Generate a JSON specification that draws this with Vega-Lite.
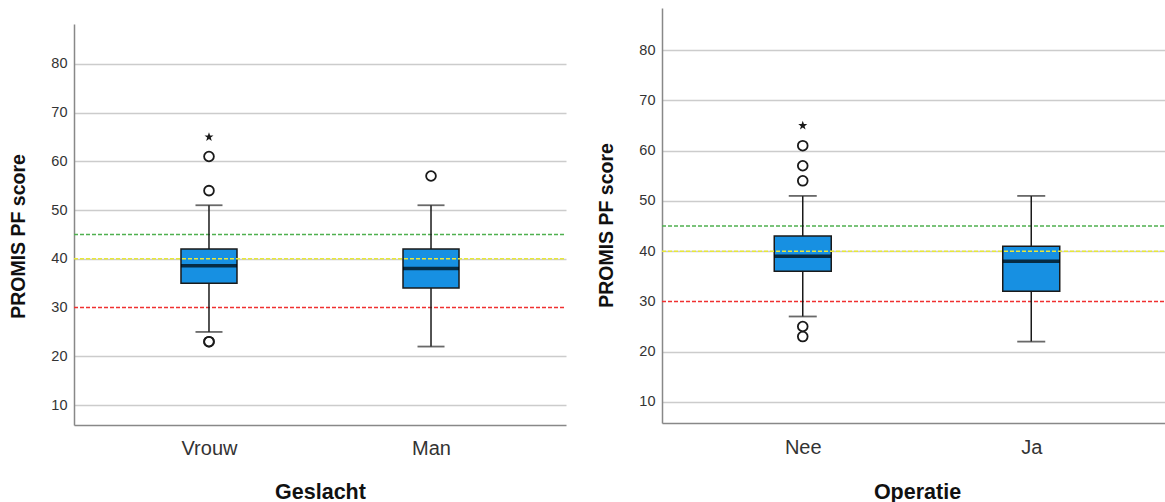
{
  "$schema": "https://vega.github.io/schema/vega-lite/v6.json",
  "padding": {"left": 8, "top": 8, "right": 0, "bottom": 0},
  "background": "white",
  "spacing": 29,
  "config": {
    "view": {"stroke": null},
    "font": "Liberation Sans",
    "axis": {
      "labelFont": "Liberation Sans",
      "titleFont": "Liberation Sans",
      "domainColor": "#888888",
      "domainWidth": 1.5,
      "ticks": false,
      "gridWidth": 1.5
    }
  },
  "datasets": {
    "refs": [
      {"ref": "45", "value": 45},
      {"ref": "40", "value": 40},
      {"ref": "30", "value": 30}
    ],
    "spacer": [],
    "geslacht_box": [
      {"group": "Vrouw", "lower": 25, "q1": 35, "median": 38.6, "q3": 42, "upper": 51},
      {"group": "Man", "lower": 22, "q1": 34, "median": 38, "q3": 42, "upper": 51}
    ],
    "geslacht_out": [
      {"group": "Vrouw", "value": 65, "kind": "extreme"},
      {"group": "Vrouw", "value": 61, "kind": "outlier"},
      {"group": "Vrouw", "value": 54, "kind": "outlier"},
      {"group": "Vrouw", "value": 23, "kind": "outlier"},
      {"group": "Vrouw", "value": 23, "kind": "outlier"},
      {"group": "Man", "value": 57, "kind": "outlier"}
    ],
    "operatie_box": [
      {"group": "Nee", "lower": 27, "q1": 36, "median": 39, "q3": 43, "upper": 51},
      {"group": "Ja", "lower": 22, "q1": 32, "median": 38, "q3": 41, "upper": 51}
    ],
    "operatie_out": [
      {"group": "Nee", "value": 65, "kind": "extreme"},
      {"group": "Nee", "value": 61, "kind": "outlier"},
      {"group": "Nee", "value": 57, "kind": "outlier"},
      {"group": "Nee", "value": 54, "kind": "outlier"},
      {"group": "Nee", "value": 25, "kind": "outlier"},
      {"group": "Nee", "value": 23, "kind": "outlier"}
    ]
  },
  "hconcat": [
    {
      "spacing": 15,
      "vconcat": [
        {
          "width": 492,
          "height": 1,
          "data": {"name": "spacer"},
          "mark": {"type": "rule", "opacity": 0},
          "encoding": {}
        },
        {
          "width": 492,
          "height": 401,
          "encoding": {
            "x": {
              "field": "group", "type": "nominal", "sort": ["Vrouw", "Man"],
              "scale": {"type": "point", "padding": 0.608},
              "axis": {"title": "Geslacht", "titleFontSize": 21.5, "titleFontWeight": "bold", "titleColor": "#111111", "titlePadding": 23, "labelFontSize": 20, "labelColor": "#333333", "labelPadding": 13, "labelAngle": 0, "grid": false}
            }
          },
          "layer": [
            {
              "data": {"name": "geslacht_box"},
              "mark": {"type": "bar", "size": 56, "fill": "#1790e2", "stroke": "#1a1a1a", "strokeWidth": 1.5},
              "encoding": {
                "y": {"field": "q1", "type": "quantitative", "scale": {"domain": [5.9, 88.2], "nice": false, "zero": false},
                  "axis": {"title": "PROMIS PF score", "titleFontSize": 19.5, "titleFontWeight": "bold", "titleColor": "#111111", "titlePadding": 22, "titleY": 212, "labelFontSize": 14.5, "labelColor": "#333333", "labelPadding": 7, "values": [10, 20, 30, 40, 50, 60, 70, 80], "grid": true,
                    "gridColor": {"condition": {"test": "datum.value === 30", "value": "transparent"}, "value": "#cccccc"}}},
                "y2": {"field": "q3"}
              }
            },
            {
              "data": {"name": "refs"},
              "mark": {"type": "rule", "strokeDash": [4, 2], "strokeWidth": 1.5},
              "encoding": {
                "y": {"field": "value", "type": "quantitative"},
                "x": {"value": 0},
                "x2": {"value": "width"},
                "color": {"field": "ref", "type": "nominal", "scale": {"domain": ["45", "40", "30"], "range": ["#4fb04f", "#e8e838", "#f03030"]}, "legend": null}
              }
            },
            {
              "data": {"name": "geslacht_box"},
              "mark": {"type": "tick", "size": 56, "thickness": 3.5, "color": "#000000"},
              "encoding": {"y": {"field": "median", "type": "quantitative"}}
            },
            {
              "data": {"name": "geslacht_box"},
              "mark": {"type": "rule", "color": "#1a1a1a", "strokeWidth": 1.5},
              "encoding": {"y": {"field": "lower", "type": "quantitative"}, "y2": {"field": "q1"}}
            },
            {
              "data": {"name": "geslacht_box"},
              "mark": {"type": "rule", "color": "#1a1a1a", "strokeWidth": 1.5},
              "encoding": {"y": {"field": "q3", "type": "quantitative"}, "y2": {"field": "upper"}}
            },
            {
              "data": {"name": "geslacht_box"},
              "mark": {"type": "tick", "size": 27, "thickness": 1.8, "color": "#2a2a2a"},
              "encoding": {"y": {"field": "lower", "type": "quantitative"}}
            },
            {
              "data": {"name": "geslacht_box"},
              "mark": {"type": "tick", "size": 27, "thickness": 1.8, "color": "#2a2a2a"},
              "encoding": {"y": {"field": "upper", "type": "quantitative"}}
            },
            {
              "data": {"name": "geslacht_out"},
              "transform": [{"filter": {"field": "kind", "equal": "outlier"}}],
              "mark": {"type": "point", "shape": "circle", "size": 95, "filled": false, "stroke": "#1a1a1a", "strokeWidth": 1.8, "opacity": 1},
              "encoding": {"y": {"field": "value", "type": "quantitative"}}
            },
            {
              "data": {"name": "geslacht_out"},
              "transform": [{"filter": {"field": "kind", "equal": "extreme"}}],
              "mark": {"type": "point", "shape": "M0,-1L0.24,-0.33L0.95,-0.31L0.38,0.12L0.59,0.81L0,0.4L-0.59,0.81L-0.38,0.12L-0.95,-0.31L-0.24,-0.33Z", "size": 90, "filled": true, "fill": "#1a1a1a", "opacity": 1},
              "encoding": {"y": {"field": "value", "type": "quantitative"}}
            }
          ]
        }
      ]
    },
    {
      "width": 510,
      "height": 415,
      "encoding": {
        "x": {
          "field": "group", "type": "nominal", "sort": ["Nee", "Ja"],
          "scale": {"type": "point", "padding": 0.616},
          "axis": {"title": "Operatie", "titleFontSize": 21.5, "titleFontWeight": "bold", "titleColor": "#111111", "titlePadding": 24, "labelFontSize": 20, "labelColor": "#333333", "labelPadding": 14, "labelAngle": 0, "grid": false}
        }
      },
      "layer": [
        {
          "data": {"name": "operatie_box"},
          "mark": {"type": "bar", "size": 57, "fill": "#1790e2", "stroke": "#1a1a1a", "strokeWidth": 1.5},
          "encoding": {
            "y": {"field": "q1", "type": "quantitative", "scale": {"domain": [5.8, 88.4], "nice": false, "zero": false},
              "axis": {"title": "PROMIS PF score", "titleFontSize": 19.5, "titleFontWeight": "bold", "titleColor": "#111111", "titlePadding": 22, "titleY": 217, "labelFontSize": 14.5, "labelColor": "#333333", "labelPadding": 7, "values": [10, 20, 30, 40, 50, 60, 70, 80], "grid": true,
                "gridColor": {"condition": {"test": "datum.value === 30", "value": "transparent"}, "value": "#cccccc"}}},
            "y2": {"field": "q3"}
          }
        },
        {
          "data": {"name": "refs"},
          "mark": {"type": "rule", "strokeDash": [4, 2], "strokeWidth": 1.5},
          "encoding": {
            "y": {"field": "value", "type": "quantitative"},
            "x": {"value": 0},
            "x2": {"value": "width"},
            "color": {"field": "ref", "type": "nominal", "scale": {"domain": ["45", "40", "30"], "range": ["#4fb04f", "#e8e838", "#f03030"]}, "legend": null}
          }
        },
        {
          "data": {"name": "operatie_box"},
          "mark": {"type": "tick", "size": 57, "thickness": 3.5, "color": "#000000"},
          "encoding": {"y": {"field": "median", "type": "quantitative"}}
        },
        {
          "data": {"name": "operatie_box"},
          "mark": {"type": "rule", "color": "#1a1a1a", "strokeWidth": 1.5},
          "encoding": {"y": {"field": "lower", "type": "quantitative"}, "y2": {"field": "q1"}}
        },
        {
          "data": {"name": "operatie_box"},
          "mark": {"type": "rule", "color": "#1a1a1a", "strokeWidth": 1.5},
          "encoding": {"y": {"field": "q3", "type": "quantitative"}, "y2": {"field": "upper"}}
        },
        {
          "data": {"name": "operatie_box"},
          "mark": {"type": "tick", "size": 28, "thickness": 1.8, "color": "#2a2a2a"},
          "encoding": {"y": {"field": "lower", "type": "quantitative"}}
        },
        {
          "data": {"name": "operatie_box"},
          "mark": {"type": "tick", "size": 28, "thickness": 1.8, "color": "#2a2a2a"},
          "encoding": {"y": {"field": "upper", "type": "quantitative"}}
        },
        {
          "data": {"name": "operatie_out"},
          "transform": [{"filter": {"field": "kind", "equal": "outlier"}}],
          "mark": {"type": "point", "shape": "circle", "size": 95, "filled": false, "stroke": "#1a1a1a", "strokeWidth": 1.8, "opacity": 1},
          "encoding": {"y": {"field": "value", "type": "quantitative"}}
        },
        {
          "data": {"name": "operatie_out"},
          "transform": [{"filter": {"field": "kind", "equal": "extreme"}}],
          "mark": {"type": "point", "shape": "M0,-1L0.24,-0.33L0.95,-0.31L0.38,0.12L0.59,0.81L0,0.4L-0.59,0.81L-0.38,0.12L-0.95,-0.31L-0.24,-0.33Z", "size": 90, "filled": true, "fill": "#1a1a1a", "opacity": 1},
          "encoding": {"y": {"field": "value", "type": "quantitative"}}
        }
      ]
    }
  ],
  "resolve": {"scale": {"color": "independent"}}
}
